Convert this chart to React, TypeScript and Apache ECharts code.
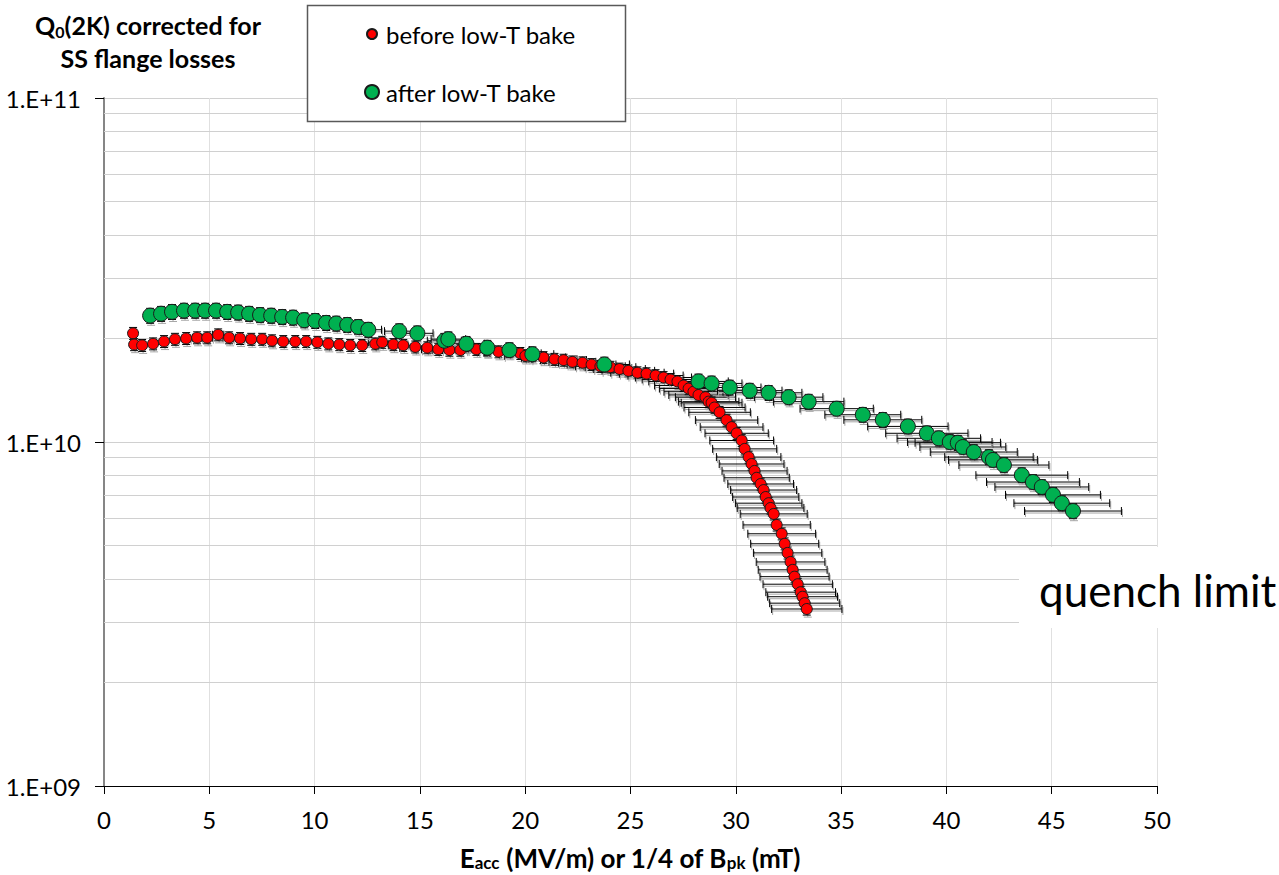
import { useEffect, useRef } from "react";
import * as echarts from "echarts";

const FONT = "Lato, 'Open Sans', sans-serif";

// before low-T bake: Eacc (MV/m) and Q0
const RED_X = [1.38, 1.43, 1.81, 2.33, 2.85, 3.37, 3.9, 4.42, 4.9, 5.42, 5.94, 6.46, 6.99, 7.51, 7.98, 8.51, 9.08, 9.6, 10.13, 10.65, 11.17, 11.69, 12.26, 12.88, 13.21, 13.74, 14.21, 14.78, 15.35, 15.87, 16.4, 16.92, 17.68, 18.2, 18.73, 19.77, 20.01, 20.87, 21.39, 21.82, 22.24, 22.72, 23.15, 23.57, 24.05, 24.48, 24.9, 25.33, 25.76, 26.19, 26.57, 26.9, 27.23, 27.52, 27.76, 27.99, 28.23, 28.56, 28.71, 28.85, 28.99, 29.23, 29.56, 29.8, 30.04, 30.28, 30.42, 30.61, 30.75, 30.89, 30.99, 31.18, 31.32, 31.42, 31.56, 31.65, 31.8, 31.94, 32.18, 32.32, 32.46, 32.6, 32.7, 32.79, 32.94, 33.08, 33.17, 33.27, 33.37];
const RED_Q = [2.07e10, 1.92e10, 1.91e10, 1.93e10, 1.96e10, 1.99e10, 2.0e10, 2.01e10, 2.01e10, 2.05e10, 2.01e10, 2.0e10, 1.99e10, 1.99e10, 1.97e10, 1.96e10, 1.96e10, 1.96e10, 1.95e10, 1.93e10, 1.92e10, 1.91e10, 1.91e10, 1.93e10, 1.95e10, 1.92e10, 1.91e10, 1.89e10, 1.88e10, 1.86e10, 1.85e10, 1.85e10, 1.86e10, 1.85e10, 1.83e10, 1.81e10, 1.78e10, 1.76e10, 1.74e10, 1.73e10, 1.71e10, 1.7e10, 1.68e10, 1.66e10, 1.65e10, 1.63e10, 1.61e10, 1.59e10, 1.58e10, 1.56e10, 1.54e10, 1.52e10, 1.5e10, 1.46e10, 1.43e10, 1.4e10, 1.37e10, 1.35e10, 1.31e10, 1.3e10, 1.26e10, 1.22e10, 1.158e10, 1.105e10, 1.06e10, 1.01e10, 9.55e9, 9.04e9, 8.63e9, 8.24e9, 7.87e9, 7.55e9, 7.25e9, 6.92e9, 6.64e9, 6.43e9, 6.18e9, 5.74e9, 5.41e9, 5.06e9, 4.76e9, 4.48e9, 4.25e9, 4.06e9, 3.86e9, 3.66e9, 3.55e9, 3.4e9, 3.27e9];

// after low-T bake
const GREEN_X = [2.19, 2.71, 3.23, 3.8, 4.33, 4.8, 5.32, 5.85, 6.37, 6.89, 7.41, 7.94, 8.46, 8.98, 9.51, 10.03, 10.55, 11.03, 11.55, 12.07, 12.55, 14.02, 14.88, 16.16, 16.35, 17.21, 18.2, 19.25, 20.34, 23.76, 28.23, 28.85, 29.71, 30.66, 31.56, 32.51, 33.46, 34.79, 36.03, 36.98, 38.17, 39.07, 39.64, 40.16, 40.54, 40.78, 41.3, 42.02, 42.21, 42.73, 43.58, 44.11, 44.53, 45.06, 45.48, 46.01];
const GREEN_Q = [2.33e10, 2.36e10, 2.39e10, 2.41e10, 2.41e10, 2.41e10, 2.41e10, 2.39e10, 2.38e10, 2.36e10, 2.34e10, 2.33e10, 2.31e10, 2.3e10, 2.26e10, 2.25e10, 2.22e10, 2.21e10, 2.19e10, 2.16e10, 2.12e10, 2.1e10, 2.07e10, 1.97e10, 1.99e10, 1.93e10, 1.88e10, 1.85e10, 1.8e10, 1.68e10, 1.5e10, 1.48e10, 1.44e10, 1.41e10, 1.39e10, 1.35e10, 1.31e10, 1.25e10, 1.2e10, 1.16e10, 1.11e10, 1.06e10, 1.025e10, 1.0e10, 0.995e10, 9.67e9, 9.35e9, 9.04e9, 8.87e9, 8.57e9, 8.01e9, 7.65e9, 7.4e9, 7.02e9, 6.64e9, 6.3e9];

// relative uncertainties used for the error bars
const REL_ERR_X = 0.05;
const REL_ERR_Y_RED = 0.04;
const REL_ERR_Y_GREEN = 0.05;

// axes
const X_MIN = 0;
const X_MAX = 50;
const X_STEP = 5;
const Y_MIN = 1e9;
const Y_MAX = 1e11;
const MINOR_Q = [2e9, 3e9, 4e9, 5e9, 6e9, 7e9, 8e9, 9e9, 2e10, 3e10, 4e10, 5e10, 6e10, 7e10, 8e10, 9e10];

const SERIES_RED = "before low-T bake";
const SERIES_GREEN = "after low-T bake";

function errData(xs: number[], qs: number[], rx: number, ry: number) {
  return xs.map((x, i) => [x, qs[i], x * rx, qs[i] * ry]);
}

function renderErr(_params: any, api: any) {
  const x = api.value(0);
  const y = api.value(1);
  const ex = api.value(2);
  const ey = api.value(3);
  const l = api.coord([x - ex, y]);
  const r = api.coord([x + ex, y]);
  const t = api.coord([x, y + ey]);
  const b = api.coord([x, y - ey]);
  const c = 4;
  const segs = [
    [l, r],
    [[l[0], l[1] - c], [l[0], l[1] + c]],
    [[r[0], r[1] - c], [r[0], r[1] + c]],
    [t, b],
    [[t[0] - c, t[1]], [t[0] + c, t[1]]],
    [[b[0] - c, b[1]], [b[0] + c, b[1]]],
  ];
  const children: any[] = [];
  for (const [p, q] of segs) {
    children.push({
      type: "line",
      shape: { x1: p[0] + 1, y1: p[1] + 2, x2: q[0] + 1, y2: q[1] + 2 },
      style: { stroke: "#a6a6a6", lineWidth: 1 },
    });
  }
  for (const [p, q] of segs) {
    children.push({
      type: "line",
      shape: { x1: p[0], y1: p[1], x2: q[0], y2: q[1] },
      style: { stroke: "#000", lineWidth: 1 },
    });
  }
  return { type: "group", children };
}

export default function App() {
  const ref = useRef<HTMLDivElement>(null);

  useEffect(() => {
    if (!ref.current) return;
    const chart = echarts.init(ref.current, undefined, { renderer: "svg" });

    const titleRich = {
      b: { fontFamily: FONT, fontWeight: "bold", fontSize: 25, lineHeight: 28, fill: "#000" },
      s: { fontFamily: FONT, fontWeight: "bold", fontSize: 16, lineHeight: 17, verticalAlign: "bottom", fill: "#000" },
    };

    const option: any = {
      animation: false,
      backgroundColor: "#ffffff",
      grid: { left: 104, right: 122, top: 98, bottom: 89 },
      xAxis: {
        type: "value",
        min: X_MIN,
        max: X_MAX,
        interval: X_STEP,
        axisLine: { onZero: false, lineStyle: { color: "#000", width: 1 } },
        axisTick: { show: true, length: 8, lineStyle: { color: "#000" } },
        axisLabel: { color: "#000", fontFamily: FONT, fontSize: 24, margin: 21 },
        splitLine: { show: true, lineStyle: { color: "#e0e0e0", width: 1 } },
      },
      yAxis: {
        type: "log",
        logBase: 10,
        min: Y_MIN,
        max: Y_MAX,
        axisLine: { show: true, lineStyle: { color: "#868686", width: 2 } },
        axisTick: { show: true, length: 9, lineStyle: { color: "#000" } },
        axisLabel: {
          color: "#000",
          fontFamily: FONT,
          fontSize: 24,
          margin: 23,
          formatter: (v: number) => {
            const e = Math.round(Math.log10(v));
            return "1.E+" + (e < 10 ? "0" + e : String(e));
          },
        },
        splitLine: { show: true, lineStyle: { color: "#d0d0d0", width: 1 } },
      },
      legend: [
        {
          data: [SERIES_RED],
          left: 366,
          top: 22,
          padding: 0,
          itemWidth: 10,
          itemHeight: 10,
          selectedMode: false,
          textStyle: { fontFamily: FONT, fontSize: 24, color: "#000", padding: [0, 0, 0, 4] },
        },
        {
          data: [SERIES_GREEN],
          left: 364,
          top: 80,
          padding: 0,
          itemWidth: 14,
          itemHeight: 14,
          selectedMode: false,
          textStyle: { fontFamily: FONT, fontSize: 24, color: "#000", padding: [0, 0, 0, 2] },
        },
      ],
      graphic: [
        {
          type: "rect",
          z: 3,
          shape: { x: 307.5, y: 5.5, width: 318, height: 116 },
          style: { fill: "#fff", stroke: "#595959", lineWidth: 1.5 },
        },
        {
          type: "rect",
          z: 3,
          shape: { x: 1019, y: 547, width: 260, height: 81 },
          style: { fill: "#fff" },
        },
        {
          type: "text",
          z: 4,
          x: 1039,
          y: 590,
          style: {
            text: "quench limit",
            font: "44px " + FONT,
            fill: "#000",
            align: "left",
            verticalAlign: "middle",
          },
        },
        {
          type: "text",
          z: 4,
          x: 148,
          y: 25,
          style: {
            text: "{b|Q}{s|0}{b|(2K) corrected for}",
            align: "center",
            verticalAlign: "middle",
            rich: titleRich,
          },
        },
        {
          type: "text",
          z: 4,
          x: 148,
          y: 58,
          style: {
            text: "SS flange losses",
            font: "bold 25px " + FONT,
            fill: "#000",
            align: "center",
            verticalAlign: "middle",
          },
        },
        {
          type: "text",
          z: 4,
          x: 630,
          y: 858,
          style: {
            text: "{b|E}{s|acc}{b| (MV/m) or 1/4 of B}{s|pk}{b| (mT)}",
            align: "center",
            verticalAlign: "middle",
            rich: {
              b: { fontFamily: FONT, fontWeight: "bold", fontSize: 26, lineHeight: 26, fill: "#000" },
              s: { fontFamily: FONT, fontWeight: "bold", fontSize: 17, lineHeight: 17, verticalAlign: "bottom", fill: "#000" },
            },
          },
        },
      ],
      series: [
        {
          type: "line",
          name: "minor-grid",
          data: [],
          silent: true,
          z: 1,
          markLine: {
            silent: true,
            z: 1,
            symbol: ["none", "none"],
            label: { show: false },
            lineStyle: { color: "#d0d0d0", width: 1, type: "solid" },
            emphasis: { disabled: true },
            data: MINOR_Q.map((v) => ({ yAxis: v })),
          },
        },
        {
          type: "custom",
          name: "red-err",
          z: 2,
          silent: true,
          renderItem: renderErr,
          encode: { x: 0, y: 1 },
          data: errData(RED_X, RED_Q, REL_ERR_X, REL_ERR_Y_RED),
        },
        {
          type: "custom",
          name: "green-err",
          z: 2,
          silent: true,
          renderItem: renderErr,
          encode: { x: 0, y: 1 },
          data: errData(GREEN_X, GREEN_Q, REL_ERR_X, REL_ERR_Y_GREEN),
        },
        {
          type: "scatter",
          name: SERIES_RED,
          z: 3,
          symbol: "circle",
          symbolSize: 11,
          itemStyle: { color: "#ff0000", borderColor: "#1a1a1a", borderWidth: 1, opacity: 1 },
          data: RED_X.map((x, i) => [x, RED_Q[i]]),
        },
        {
          type: "scatter",
          name: SERIES_GREEN,
          z: 4,
          symbol: "circle",
          symbolSize: 15,
          itemStyle: { color: "#00b050", borderColor: "#1a1a1a", borderWidth: 1, opacity: 1 },
          data: GREEN_X.map((x, i) => [x, GREEN_Q[i]]),
        },
      ],
    };

    chart.setOption(option);
    return () => chart.dispose();
  }, []);

  return (
    <div
      ref={ref}
      style={{ position: "fixed", left: 0, top: 0, width: 1279, height: 875, background: "#fff" }}
    />
  );
}
